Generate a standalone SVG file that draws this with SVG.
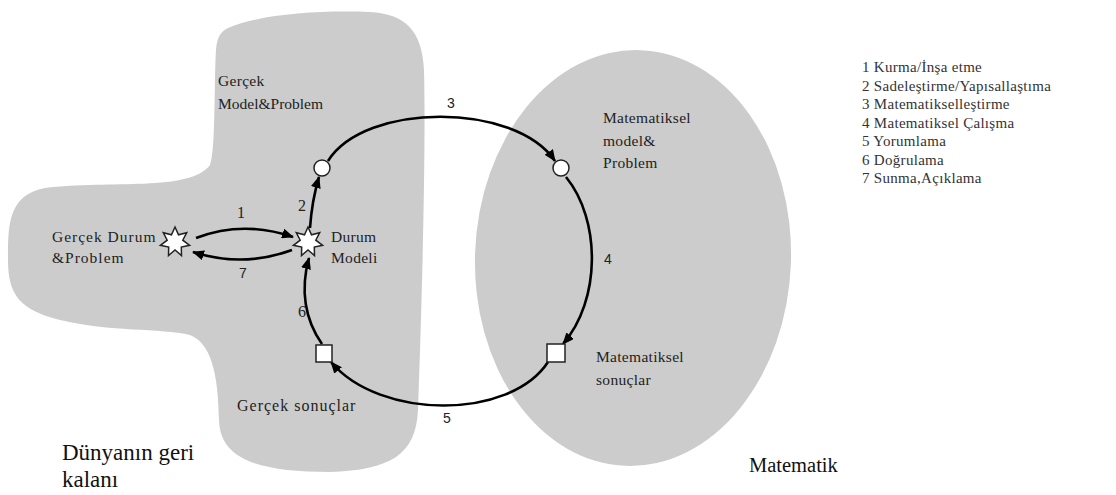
<svg xmlns="http://www.w3.org/2000/svg" xmlns:xlink="http://www.w3.org/1999/xlink" width="1116" height="495" viewBox="0 0 1116 495">
<style>
.region{fill:#cccccc;stroke:none}
text{font-family:"Liberation Serif","Times New Roman",serif}
.lbl{fill:#222;font-size:15.5px;letter-spacing:0.3px}
.big{fill:#111;font-size:23px}
.num{fill:#222;font-size:14px;font-family:"Liberation Sans",Arial,sans-serif}
.numS{fill:#222;font-size:16px}
.leg{fill:#333;font-size:15px;letter-spacing:0.3px}
.arc{fill:none;stroke:#000;stroke-width:2.6;marker-end:url(#ah)}
.node{fill:#fff;stroke:#222;stroke-width:1.5}
</style>
<defs>
<marker id="ah" markerUnits="userSpaceOnUse" markerWidth="12" markerHeight="10" refX="11" refY="5" orient="auto">
<path d="M0,0 L12,5 L0,10 z" fill="#000"/>
</marker>
<polygon id="star" points="0,-15 3.5,-7.2 11.7,-9.3 7.8,-1.8 14.6,3.3 6.3,5 6.5,13.5 0,8 -6.5,13.5 -6.3,5 -14.6,3.3 -7.8,-1.8 -11.7,-9.3 -3.5,-7.2"/>
</defs>
<g id="regions">
<path class="region" d="M228,28 C260,14 320,10 370,12 C405,14 422,30 424,70 C426,150 422,300 418,410 C416,455 390,470 330,472 C260,472 220,460 219,420 C218,385 215,345 190,335 C160,328 110,332 60,320 C20,310 8,295 8,260 C8,225 8,195 45,188 C110,180 190,192 210,165 C216,150 214,80 216,50 C217,38 220,32 228,28 Z"/>
<ellipse class="region" cx="633" cy="258" rx="158" ry="208" transform="rotate(2 633 258)"/>
</g>
<g id="connectors">
<path id="e1" class="arc" d="M196,238 Q243,220 293,237"/>
<path id="e7" class="arc" d="M292,250 Q243,268 193,252"/>
<path id="e2" class="arc" d="M310,228 Q312,200 319,177"/>
<path id="e3" class="arc" d="M328,161 C365,102 515,102 555,161"/>
<path id="e4" class="arc" d="M566,177 C601,220 601,300 563,344"/>
<path id="e5" class="arc" d="M548,362 C510,420 380,420 331,362"/>
<path id="e6" class="arc" d="M322,344 C305,320 300,290 309,258"/>
</g>
<g id="labels-edges">
<text class="numS" x="237" y="218">1</text>
<text class="numS" x="298" y="211">2</text>
<text class="num" x="447" y="108">3</text>
<text class="num" x="604" y="264">4</text>
<text class="num" x="443" y="423">5</text>
<text class="numS" x="298" y="317">6</text>
<text class="num" x="239" y="278">7</text>
</g>
<g id="node-gercek-durum">
<use xlink:href="#star" x="175" y="242" class="node"/>
<text class="lbl" x="52" y="242" style="letter-spacing:1px">Gerçek Durum</text>
<text class="lbl" x="52" y="263" style="letter-spacing:1px">&amp;Problem</text>
</g>
<g id="node-durum-modeli">
<use xlink:href="#star" x="308" y="242" class="node"/>
<text class="lbl" x="331" y="242">Durum</text>
<text class="lbl" x="331" y="263">Modeli</text>
</g>
<g id="node-gercek-model">
<circle class="node" cx="322" cy="168" r="8"/>
<text class="lbl" x="218" y="86">Gerçek</text>
<text class="lbl" x="218" y="109" style="letter-spacing:0">Model&amp;Problem</text>
</g>
<g id="node-mat-model">
<circle class="node" cx="561" cy="168" r="8"/>
<text class="lbl" x="603" y="123">Matematiksel</text>
<text class="lbl" x="603" y="146">model&amp;</text>
<text class="lbl" x="603" y="168">Problem</text>
</g>
<g id="node-mat-sonuc">
<rect class="node" x="547" y="344" width="18" height="18"/>
<text class="lbl" x="596" y="362">Matematiksel</text>
<text class="lbl" x="596" y="385">sonuçlar</text>
</g>
<g id="node-gercek-sonuc">
<rect class="node" x="316" y="345" width="16" height="17"/>
<text class="lbl" x="237" y="411" style="font-size:16px;letter-spacing:1px">Gerçek sonuçlar</text>
</g>
<g id="region-labels">
<text class="big" x="62" y="460">Dünyanın geri</text>
<text class="big" x="62" y="487">kalanı</text>
<text class="big" x="749" y="472" style="font-size:20.5px">Matematik</text>
</g>
<g id="legend">
<text class="leg" x="862" y="72">1 Kurma/İnşa etme</text>
<text class="leg" x="862" y="90.5">2 Sadeleştirme/Yapısallaştıma</text>
<text class="leg" x="862" y="109">3 Matematikselleştirme</text>
<text class="leg" x="862" y="127.5">4 Matematiksel Çalışma</text>
<text class="leg" x="862" y="146">5 Yorumlama</text>
<text class="leg" x="862" y="164.5">6 Doğrulama</text>
<text class="leg" x="862" y="183">7 Sunma,Açıklama</text>
</g>
</svg>
